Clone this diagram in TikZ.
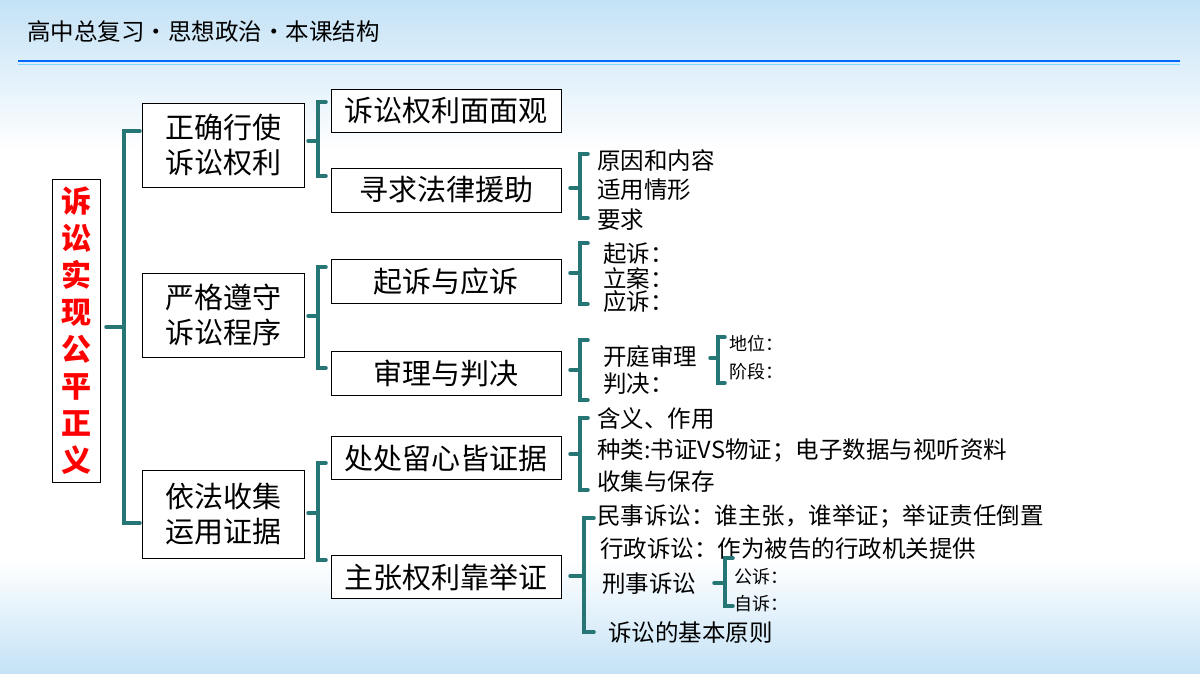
\documentclass[tikz,border=0pt]{standalone}
\usepackage{fontspec}
\setmainfont{Noto Sans CJK SC}
\definecolor{brc}{RGB}{38,118,118}
\definecolor{bgb}{RGB}{196,226,246}
\begin{document}
\begin{tikzpicture}[x=1pt,y=-1pt,
  box/.style={draw=black,line width=0.8pt,fill=white,inner sep=0pt,align=center,font=\fontsize{29}{35}\selectfont},
  lv/.style={anchor=west,inner sep=0pt,font=\fontsize{23.5}{26}\selectfont},
  sv/.style={anchor=west,inner sep=0pt,font=\fontsize{18}{22}\selectfont},
  brk/.style={draw=brc,line width=3.5pt,line cap=round}]
\useasboundingbox (0,0) rectangle (1200,674);
\fill[white] (0,0) rectangle (1200,674);
\begin{scope}[y=1pt]
\shade[top color=bgb,bottom color=white] (0,0) rectangle (1200,-150);
\shade[top color=white,bottom color=bgb] (0,-560) rectangle (1200,-674);
\end{scope}
\draw[blue!60!cyan,line width=1.2pt] (18,61) -- (1180,61);
\draw[blue!30!cyan!50,line width=1pt] (18,65) -- (1180,65);
\node[anchor=west,inner sep=0pt,font=\fontsize{23.5}{26}\selectfont] (hdr) at (27,32) {高中总复习・思想政治・本课结构};
% main
\node[box,draw=black,text=red,minimum width=48pt,minimum height=303pt,font=\fontsize{30}{37}\selectfont\bfseries] (main) at (76,331) {诉\\讼\\实\\现\\公\\平\\正\\义};
% level 1
\node[box,minimum width=162pt,minimum height=84pt] (A) at (223,145) {正确行使\\诉讼权利};
\node[box,minimum width=162pt,minimum height=84pt] (B) at (223,315) {严格遵守\\诉讼程序};
\node[box,minimum width=162pt,minimum height=88pt] (C) at (223,514) {依法收集\\运用证据};
\draw[brk] (140,131) -- (124,131) -- (124,523) -- (140,523) (124,327) -- (106,327);
% level 2
\node[box,minimum width=230pt,minimum height=43pt] (A1) at (446,111) {诉讼权利面面观};
\node[box,minimum width=230pt,minimum height=44pt] (A2) at (446,190) {寻求法律援助};
\node[box,minimum width=230pt,minimum height=44pt] (B1) at (446,281) {起诉与应诉};
\node[box,minimum width=230pt,minimum height=44pt] (B2) at (446,373) {审理与判决};
\node[box,minimum width=230pt,minimum height=43pt] (C1) at (446,458) {处处留心皆证据};
\node[box,minimum width=230pt,minimum height=43pt] (C2) at (446,577) {主张权利靠举证};
\draw[brk] (326,102) -- (318,102) -- (318,176) -- (326,176) (318,141) -- (308,141);
\draw[brk] (326,267) -- (318,267) -- (318,368) -- (326,368) (318,316) -- (308,316);
\draw[brk] (326,463) -- (318,463) -- (318,560) -- (326,560) (318,513) -- (308,513);
% level 3
\draw[brk] (588,154) -- (580,154) -- (580,218) -- (588,218) (580,188) -- (570,188);
\node[lv] (a1) at (597,161) {原因和内容};
\node[lv] (a2) at (597,190) {适用情形};
\node[lv] (a3) at (597,220) {要求};
\draw[brk] (588,243) -- (580,243) -- (580,304) -- (588,304) (580,273) -- (570,273);
\node[lv] (b1) at (603,254) {起诉：};
\node[lv] (b2) at (603,278) {立案：};
\node[lv] (b3) at (603,302) {应诉：};
\draw[brk] (588,340) -- (580,340) -- (580,400) -- (588,400) (580,370) -- (570,370);
\node[lv] (b4) at (603,357) {开庭审理};
\node[lv] (b5) at (603,384) {判决：};
\draw[brk] (725,337) -- (718,337) -- (718,383) -- (725,383) (718,358) -- (710,358);
\node[sv] (b6) at (729,344) {地位：};
\node[sv] (b7) at (729,372) {阶段：};
\draw[brk] (588,418) -- (580,418) -- (580,490) -- (588,490) (580,454) -- (570,454);
\node[lv] (c1) at (597,419) {含义、作用};
\node[lv] (c2) at (597,451) {种类:书证VS物证；电子数据与视听资料};
\node[lv] (c3) at (597,482) {收集与保存};
\draw[brk] (594,518) -- (584,518) -- (584,632) -- (594,632) (584,576) -- (570,576);
\node[lv] (c4) at (597,516) {民事诉讼：谁主张，谁举证；举证责任倒置};
\node[lv] (c5) at (600,549) {行政诉讼：作为被告的行政机关提供};
\node[lv] (c6) at (602,584) {刑事诉讼};
\draw[brk] (733,558) -- (725,558) -- (725,606) -- (733,606) (725,583) -- (714,583);
\node[sv] (c7) at (734,577) {公诉：};
\node[sv] (c8) at (734,604) {自诉：};
\node[lv] (c9) at (608,633) {诉讼的基本原则};
\end{tikzpicture}
\end{document}
